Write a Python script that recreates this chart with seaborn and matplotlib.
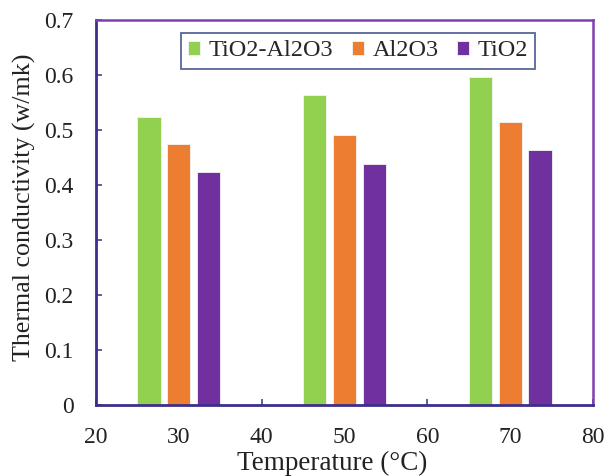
import matplotlib
matplotlib.use("Agg")
import matplotlib.pyplot as plt
import seaborn as sns
import pandas as pd

temperatures = [30, 50, 70]
series = ["TiO2-Al2O3", "Al2O3", "TiO2"]
tio2_al2o3 = [0.523, 0.563, 0.597]
al2o3 = [0.474, 0.491, 0.515]
tio2 = [0.424, 0.438, 0.463]
colors = ["#92D050", "#ED7D31", "#7030A0"]
x_ticks = [20, 30, 40, 50, 60, 70, 80]
y_ticks = [0, 0.1, 0.2, 0.3, 0.4, 0.5, 0.6, 0.7]
y_tick_labels = ["0", "0.1", "0.2", "0.3", "0.4", "0.5", "0.6", "0.7"]

rows = []
for name, vals in zip(series, [tio2_al2o3, al2o3, tio2]):
    for t, v in zip(temperatures, vals):
        rows.append({"Temperature": t, "k": v, "Fluid": name})
df = pd.DataFrame(rows)

sns.set_theme(style="white")
plt.rcParams["font.family"] = ["Liberation Serif", "DejaVu Serif"]
plt.rcParams["mathtext.fontset"] = "stix"

fig = plt.figure(figsize=(6.05, 4.76), dpi=100)
ax = fig.add_axes([96/605, 1-405/476, (593-96)/605, (405-20)/476])

sns.barplot(data=df, x="Temperature", y="k", hue="Fluid", hue_order=series,
            palette=colors, native_scale=True, width=0.54, gap=0.22,
            edgecolor="#f4f4f4", linewidth=0.6, saturation=1, ax=ax, errorbar=None)

ax.set_xlim(20, 80)
ax.set_ylim(0, 0.7)
ax.set_xticks(x_ticks)
ax.set_xticklabels([str(t) for t in x_ticks])
ax.set_yticks(y_ticks)
ax.set_yticklabels(y_tick_labels)
ax.tick_params(axis="both", direction="in", length=4, width=1.2, color="#3A4A8A",
               labelsize=17, labelcolor="#222222")
ax.tick_params(axis="x", pad=16)
ax.tick_params(axis="y", pad=16)
ax.tick_params(left=True, bottom=True)

for side in ["left", "bottom"]:
    ax.spines[side].set_color("#3C2F8C")
    ax.spines[side].set_linewidth(2)
for side in ["top", "right"]:
    ax.spines[side].set_color("#7F3FB0")
    ax.spines[side].set_linewidth(1.8)
    ax.spines[side].set_visible(True)

ax.set_xlabel("Temperature (°C)", fontsize=19.5, color="#222222")
ax.set_ylabel("Thermal conductivity (w/mk)", fontsize=18.7, color="#222222")
ax.xaxis.set_label_coords((332 - 96) / 497, (405 - 451) / 385)
ax.yaxis.set_label_coords((36 - 96) / 497, (405 - 207) / 385)

handles, labels = ax.get_legend_handles_labels()
leg = ax.legend(handles, labels, loc="upper left", bbox_to_anchor=(0.171, 0.966),
                ncol=3, fontsize=17.5, frameon=True, fancybox=False,
                handlelength=0.5, handleheight=0.5, handletextpad=0.35,
                columnspacing=0.75, borderpad=0.3, borderaxespad=0)
leg.get_frame().set_edgecolor("#2F3F7F")
leg.get_frame().set_linewidth(1.3)

fig.savefig("out.png", dpi=100)
